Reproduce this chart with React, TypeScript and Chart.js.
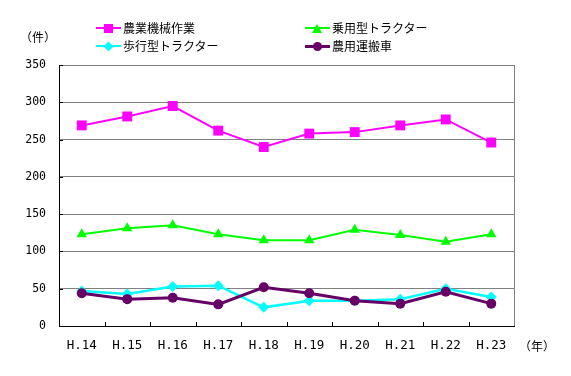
import React, { useEffect, useRef } from "react";
import { Chart, registerables } from "chart.js";

Chart.register(...registerables);

const years = ["H.14", "H.15", "H.16", "H.17", "H.18", "H.19", "H.20", "H.21", "H.22", "H.23"];
const farmMachineWork = [269, 281, 295, 262, 240, 258, 260, 269, 277, 246];
const ridingTractor = [123, 131, 135, 123, 115, 115, 129, 122, 113, 123];
const walkingTractor = [47, 43, 53, 54, 25, 34, 34, 36, 50, 39];
const farmTransporter = [44, 36, 38, 29, 52, 44, 34, 30, 46, 30];
const seriesNames = ["農業機械作業", "乗用型トラクター", "歩行型トラクター", "農用運搬車"];
const seriesColors = ["#ff00ff", "#00ff00", "#00ffff", "#660066"];
const yUnit = "（件）";
const xUnit = "（年）";

const FONT = "'Noto Sans CJK JP', 'Noto Sans', sans-serif";
const TICK_FONT = "'DejaVu Sans Mono', 'Liberation Mono', monospace";

const framePlugin = {
  id: "frame",
  afterDatasetsDraw(chart: any) {
    const { ctx, chartArea, scales } = chart;
    ctx.save();
    ctx.strokeStyle = "#808080";
    ctx.lineWidth = 1;
    ctx.beginPath();
    ctx.moveTo(Math.round(chartArea.right) + 0.5, chartArea.top);
    ctx.lineTo(Math.round(chartArea.right) + 0.5, chartArea.bottom);
    ctx.stroke();
    const xs = scales.x;
    ctx.strokeStyle = "#000000";
    ctx.beginPath();
    for (let i = 0; i < years.length - 1; i++) {
      const px = Math.round((xs.getPixelForValue(i) + xs.getPixelForValue(i + 1)) / 2) + 0.5;
      ctx.moveTo(px, chartArea.bottom);
      ctx.lineTo(px, chartArea.bottom - 4);
    }
    const ys = scales.y;
    for (let v = 50; v <= 350; v += 50) {
      const py = Math.round(ys.getPixelForValue(v)) + 0.5;
      ctx.moveTo(chartArea.left, py);
      ctx.lineTo(chartArea.left + 4, py);
    }
    ctx.stroke();
    ctx.restore();
  },
};

function LegendMarker({ kind, color }: { kind: string; color: string }) {
  const base: React.CSSProperties = { position: "absolute", left: 8, top: 0 };
  if (kind === "rect")
    return <div style={{ ...base, left: 8, top: -4, width: 9, height: 9, background: color }} />;
  if (kind === "triangle")
    return (
      <div
        style={{
          ...base,
          left: 7,
          top: -4,
          width: 0,
          height: 0,
          borderLeft: "5px solid transparent",
          borderRight: "5px solid transparent",
          borderBottom: `9px solid ${color}`,
        }}
      />
    );
  if (kind === "rectRot")
    return (
      <div
        style={{ ...base, left: 9, top: -3, width: 7, height: 7, background: color, transform: "rotate(45deg)" }}
      />
    );
  return <div style={{ ...base, left: 8, top: -4, width: 9, height: 9, borderRadius: "50%", background: color }} />;
}

const legendItems = [
  { name: seriesNames[0], color: seriesColors[0], kind: "rect", x: 96, y: 28, lw: 2 },
  { name: seriesNames[1], color: seriesColors[1], kind: "triangle", x: 305, y: 28, lw: 2 },
  { name: seriesNames[2], color: seriesColors[2], kind: "rectRot", x: 96, y: 46, lw: 2 },
  { name: seriesNames[3], color: seriesColors[3], kind: "circle", x: 305, y: 46, lw: 3 },
];

export default function App() {
  const ref = useRef<HTMLCanvasElement>(null);
  useEffect(() => {
    if (!ref.current) return;
    const chart = new Chart(ref.current, {
      type: "line",
      data: {
        labels: years,
        datasets: [
          {
            label: seriesNames[0],
            data: farmMachineWork,
            borderColor: seriesColors[0],
            backgroundColor: seriesColors[0],
            borderWidth: 2,
            pointStyle: "rect",
            pointRadius: 7,
            pointBorderWidth: 0,
            order: 3,
          },
          {
            label: seriesNames[1],
            data: ridingTractor,
            borderColor: seriesColors[1],
            backgroundColor: seriesColors[1],
            borderWidth: 2,
            pointStyle: "triangle",
            pointRadius: 6,
            pointBorderWidth: 0,
            order: 2,
          },
          {
            label: seriesNames[2],
            data: walkingTractor,
            borderColor: seriesColors[2],
            backgroundColor: seriesColors[2],
            borderWidth: 2.5,
            pointStyle: "rectRot",
            pointRadius: 5.5,
            pointBorderWidth: 0,
            order: 1,
          },
          {
            label: seriesNames[3],
            data: farmTransporter,
            borderColor: seriesColors[3],
            backgroundColor: seriesColors[3],
            borderWidth: 3,
            pointStyle: "circle",
            pointRadius: 5,
            pointBorderWidth: 0,
            order: 0,
          },
        ],
      },
      options: {
        animation: false,
        responsive: false,
        maintainAspectRatio: false,
        layout: { padding: { left: 0, right: 57, top: 65, bottom: 0 } },
        plugins: { legend: { display: false }, tooltip: { enabled: false } },
        elements: { line: { tension: 0 } },
        scales: {
          x: {
            offset: true,
            grid: { display: false, drawTicks: false },
            border: { display: true, color: "#000000", width: 1 },
            ticks: { color: "#000000", font: { family: TICK_FONT, size: 12.5 }, padding: 12, maxRotation: 0 },
            afterFit: (s: any) => {
              s.height = 50;
            },
          },
          y: {
            min: 0,
            max: 350,
            ticks: { stepSize: 50, color: "#000000", font: { family: TICK_FONT, size: 11.5 }, padding: 13 },
            grid: { color: "#808080", lineWidth: 1, drawTicks: false },
            border: { display: true, color: "#000000", width: 1 },
            afterFit: (s: any) => {
              s.width = 59;
            },
          },
        },
      },
      plugins: [framePlugin],
    });
    return () => chart.destroy();
  }, []);

  return (
    <div
      style={{
        position: "fixed",
        left: 0,
        top: 0,
        width: 571,
        height: 376,
        background: "#ffffff",
        fontFamily: FONT,
        fontSize: 12,
        color: "#000",
      }}
    >
      <canvas ref={ref} width={571} height={376} style={{ position: "absolute", left: 0, top: 0 }} />
      <div style={{ position: "absolute", left: 20, top: 28, lineHeight: "18px", whiteSpace: "nowrap" }}>{yUnit}</div>
      <div style={{ position: "absolute", left: 519, top: 337, lineHeight: "18px", whiteSpace: "nowrap" }}>{xUnit}</div>
      {legendItems.map((it) => (
        <div key={it.name} style={{ position: "absolute", left: it.x, top: it.y, height: 0 }}>
          <div
            style={{
              position: "absolute",
              left: 0,
              top: -it.lw / 2,
              width: 25,
              height: it.lw,
              background: it.color,
            }}
          />
          <LegendMarker kind={it.kind} color={it.color} />
          <div style={{ position: "absolute", left: 27, top: -9, lineHeight: "18px", whiteSpace: "nowrap" }}>
            {it.name}
          </div>
        </div>
      ))}
    </div>
  );
}
